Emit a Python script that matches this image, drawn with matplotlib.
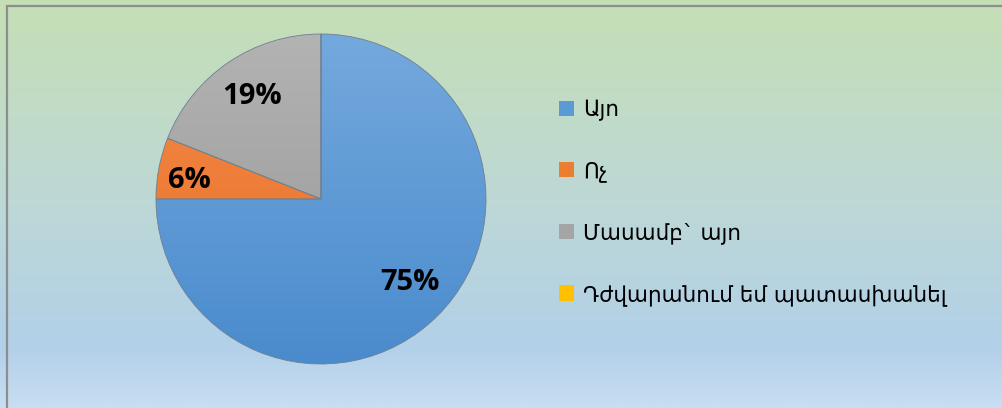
import numpy as np
import matplotlib.pyplot as plt
from matplotlib.colors import LinearSegmentedColormap
from matplotlib.patches import Rectangle

# data
labels = ['Այո', 'Ոչ', 'Մասամբ` այո', 'Դժվարանում եմ պատասխանել']
values = [75, 6, 19, 0]
pct_labels = ['75%', '6%', '19%', '']
colors = ['#5B9BD5', '#ED7D31', '#A5A5A5', '#FFC000']
tops = ['#74A9DD', '#F58C4E', '#B3B3B3', '#FFD040']
bottoms = ['#4A8BCD', '#E56C1E', '#969696', '#F5B800']

W, H = 1002, 408
fig = plt.figure(figsize=(W / 100, H / 100), dpi=100)

# background gradient
bg = fig.add_axes([0, 0, 1, 1])
bg_cmap = LinearSegmentedColormap.from_list(
    'bg', [(0, '#C5DFB5'), (0.5, '#BDD8D6'), (0.85, '#B2D0E9'), (1, '#C8DEF2')])
bg.imshow(np.linspace(0, 1, 256).reshape(-1, 1), aspect='auto', cmap=bg_cmap,
          extent=[0, W, H, 0])
bg.set_xlim(0, W)
bg.set_ylim(H, 0)
bg.axis('off')
# border on left and top
bg.plot([7.5, 7.5, W + 5], [H + 5, 5.5, 5.5], color='#8E8E8E', lw=1.6,
        solid_joinstyle='miter')

# pie
cx, cy, r = 321, 199, 165
ax = fig.add_axes([(cx - r) / W, 1 - (cy + r) / H, 2 * r / W, 2 * r / H])
wedges, _ = ax.pie(values, colors=colors, startangle=90, counterclock=False,
                   radius=1, wedgeprops=dict(linewidth=0.6, edgecolor='#6F7F8F'))
ax.set_xlim(-1, 1)
ax.set_ylim(-1, 1)
ax.set_aspect('auto')

# vertical gradient inside each slice
for w, c0, c1 in zip(wedges, tops, bottoms):
    cm = LinearSegmentedColormap.from_list('g', [c0, c1])
    im = ax.imshow(np.linspace(0, 1, 256).reshape(-1, 1), aspect='auto', cmap=cm,
                   extent=[-1, 1, -1, 1], zorder=w.get_zorder() - 0.01)
    im.set_clip_path(w)
    w.set_facecolor('none')

# percent labels
pct_pos = [(410, 282), (189, 180), (252, 97)]
for txt, (px, py) in zip(pct_labels, pct_pos):
    ax.text((px - cx) / r, (cy - py) / r, txt, ha='center', va='center',
            fontsize=21, fontweight='bold', family='Open Sans', color='black')

# legend
handles = [Rectangle((0, 0), 1, 1, facecolor=c) for c in colors]
fig.legend(handles, labels, loc='upper left', bbox_to_anchor=(550 / W, 1 - 91 / H),
           frameon=False, prop={'family': ['DejaVu Sans'], 'size': 15.5},
           handlelength=0.72, handleheight=0.72, handletextpad=0.4,
           labelspacing=1.86, borderaxespad=0)

fig.savefig('out.png', dpi=100)
